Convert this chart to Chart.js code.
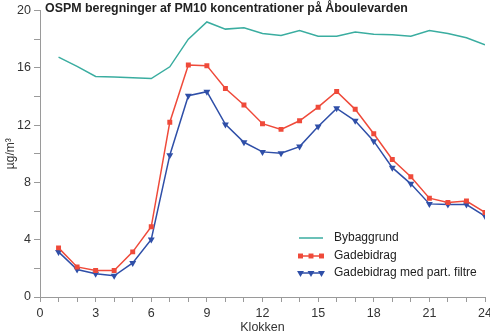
<!DOCTYPE html>
<html>
<head>
<meta charset="utf-8">
<script src="https://cdn.jsdelivr.net/npm/chart.js@4"></script>
<style>
  html, body { margin: 0; padding: 0; background: #fff; }
  #wrap { width: 490px; height: 335px; }
</style>
</head>
<body>
<div id="wrap"><canvas id="myChart" width="490" height="335"></canvas></div>
<script>
// Hours of the day
let hours = [1,2,3,4,5,6,7,8,9,10,11,12,13,14,15,16,17,18,19,20,21,22,23,24]

// Concentrations (µg/m3)
let bybaggrund = [16.75,16.1,15.4,15.35,15.3,15.25,16.07,18.0,19.2,18.7,18.8,18.4,18.25,18.6,18.2,18.2,18.5,18.35,18.3,18.2,18.6,18.4,18.1,17.6]
let gadebidrag = [3.43,2.1,1.85,1.85,3.15,4.9,12.2,16.2,16.15,14.55,13.4,12.1,11.7,12.3,13.25,14.35,13.1,11.4,9.6,8.4,6.9,6.6,6.7,5.9]
let medFiltre  = [3.15,1.92,1.62,1.48,2.38,4.02,9.9,14.05,14.33,12.05,10.8,10.13,10.03,10.5,11.9,13.17,12.3,10.88,9.03,7.9,6.5,6.45,6.45,5.65]

let seriesNames = ['Bybaggrund', 'Gadebidrag', 'Gadebidrag med part. filtre']
let xTicks = [0,3,6,9,12,15,18,21,24]
let yTicks = [0,4,8,12,16,20]

let teal = '#3aada0'
let red = '#ef4a3a'
let blue = '#2f4fa8'
let axisGrey = '#9a9a9a'
let font = 'Arial, "Liberation Sans", sans-serif'

function toPoints(values) {
  return hours.map((h, i) => ({ x: h, y: values[i] }))
}

// Title and legend drawn on the canvas
let decorations = {
  id: 'decorations',
  afterDraw(chart) {
    let ctx = chart.ctx
    ctx.save()
    ctx.fillStyle = '#222'
    ctx.font = 'bold 12.4px ' + font
    ctx.textBaseline = 'middle'
    ctx.textAlign = 'left'
    ctx.fillText('OSPM beregninger af PM10 koncentrationer på Åboulevarden', 45, 9)

    let rows = [238, 256, 273]
    chart.data.datasets.forEach((ds, i) => {
      let y = rows[i]
      ctx.strokeStyle = ds.borderColor
      ctx.lineWidth = 1.5
      ctx.beginPath()
      ctx.moveTo(299, y)
      ctx.lineTo(323, y)
      ctx.stroke()
      if (ds.pointRadius > 0) {
        ctx.fillStyle = ds.backgroundColor
        ;[300.5, 311, 321.5].forEach(px => {
          Chart.helpers.drawPoint(ctx, {
            pointStyle: ds.pointStyle,
            radius: ds.pointRadius,
            rotation: ds.pointRotation || 0,
            borderWidth: 0
          }, px, y)
        })
      }
      ctx.fillStyle = '#222'
      ctx.font = '12px ' + font
      ctx.fillText(seriesNames[i], 334, y)
    })
    ctx.restore()
  }
}

new Chart(document.getElementById('myChart'), {
  type: 'line',
  data: {
    datasets: [{
      label: seriesNames[0],
      data: toPoints(bybaggrund),
      borderColor: teal,
      backgroundColor: teal,
      borderWidth: 1.5,
      pointRadius: 0,
      fill: false
    }, {
      label: seriesNames[1],
      data: toPoints(gadebidrag),
      borderColor: red,
      backgroundColor: red,
      borderWidth: 1.5,
      pointStyle: 'rect',
      pointRadius: 3.5,
      pointBorderWidth: 0,
      fill: false
    }, {
      label: seriesNames[2],
      data: toPoints(medFiltre),
      borderColor: blue,
      backgroundColor: blue,
      borderWidth: 1.5,
      pointStyle: 'triangle',
      pointRotation: 180,
      pointRadius: 4,
      pointBorderWidth: 0,
      fill: false
    }]
  },
  options: {
    responsive: false,
    animation: false,
    devicePixelRatio: 1,
    layout: { padding: { top: 7, right: 5, left: 0, bottom: 0 } },
    plugins: {
      legend: { display: false },
      tooltip: { enabled: false }
    },
    scales: {
      x: {
        type: 'linear',
        min: 0,
        max: 24,
        afterBuildTicks(scale) {
          scale.ticks = [0].concat(hours).map(v => ({ value: v }))
        },
        afterFit(scale) {
          scale.height = 38
          scale.paddingRight = 0
          scale.paddingLeft = 0
        },
        ticks: {
          autoSkip: false,
          maxRotation: 0,
          padding: 4,
          color: '#333',
          font: { family: font, size: 12.5 },
          callback: v => xTicks.includes(v) ? String(v) : ''
        },
        grid: { drawOnChartArea: false, drawTicks: true, tickLength: 5, color: axisGrey },
        border: { color: axisGrey, width: 1 },
        title: {
          display: true,
          text: 'Klokken',
          color: '#333',
          font: { family: font, size: 12.5 },
          padding: { top: 0, bottom: 0 }
        }
      },
      y: {
        min: 0,
        max: 20,
        ticks: {
          stepSize: 2,
          padding: 3,
          color: '#333',
          font: { family: font, size: 12.5 },
          callback: v => yTicks.includes(v) ? String(v) : ''
        },
        afterFit(scale) { scale.width = 40 },
        grid: { drawOnChartArea: false, drawTicks: true, tickLength: 6, color: axisGrey },
        border: { color: axisGrey, width: 1 },
        title: {
          display: true,
          text: 'µg/m³',
          color: '#333',
          font: { family: font, size: 12 },
          padding: { top: 3, bottom: 0 }
        }
      }
    }
  },
  plugins: [decorations]
})
</script>
</body>
</html>
